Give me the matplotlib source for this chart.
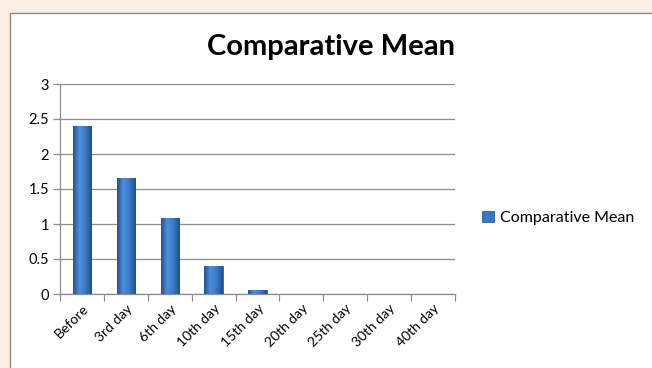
import matplotlib
matplotlib.use("Agg")
import matplotlib.pyplot as plt
import numpy as np
from matplotlib.patches import Rectangle
from matplotlib.colors import LinearSegmentedColormap

categories = ["Before", "3rd day", "6th day", "10th day", "15th day",
              "20th day", "25th day", "30th day", "40th day"]
values = [2.4, 1.66, 1.08, 0.4, 0.06, 0, 0, 0, 0]
yticks = [0, 0.5, 1, 1.5, 2, 2.5, 3]
ytick_labels = ["0", "0.5", "1", "1.5", "2", "2.5", "3"]
series_name = "Comparative Mean"
title = "Comparative Mean"

W, H = 652, 368
fig = plt.figure(figsize=(W / 100, H / 100), dpi=100)
fig.patch.set_facecolor("#fcede2")
panel = Rectangle((10 / W, -0.01), 1, 1.01 - 13 / H, transform=fig.transFigure,
                  facecolor="white", edgecolor="#8a8a8a", lw=1.0, zorder=-5)
fig.patches.append(panel)

ax = fig.add_axes([60 / W, 1 - 294 / H, (455 - 60) / W, (294 - 84) / H])
ax.set_zorder(2)
ax.set_facecolor("none")
x = np.arange(len(categories))
bars = ax.bar(x, values, width=0.42, color="#3a77c2", edgecolor="#2a5a96", lw=0.6, zorder=3)

# cylinder-like gradient
cmap = LinearSegmentedColormap.from_list("cyl", ["#24538f", "#4d8fdc", "#3a78c4", "#22508a"])
grad = np.linspace(0, 1, 64).reshape(1, -1)
for b in bars:
    h = b.get_height()
    if h <= 0:
        continue
    x0 = b.get_x()
    im = ax.imshow(grad, cmap=cmap, aspect="auto", extent=(x0, x0 + b.get_width(), 0, h),
                   zorder=4, interpolation="bicubic")
    im.set_clip_path(b)
ax.set_xlim(-0.5, len(categories) - 0.5)
ax.set_ylim(0, 3)
ax.set_yticks(yticks)
ax.set_yticklabels(ytick_labels)
ax.yaxis.grid(True, color="#8c8c8c", lw=0.9)
ax.set_axisbelow(True)
for s in ["top", "right"]:
    ax.spines[s].set_visible(False)
for s in ["left", "bottom"]:
    ax.spines[s].set_color("#8c8c8c")
    ax.spines[s].set_linewidth(0.9)

ax.set_xticks(x)
ax.set_xticklabels(categories, rotation=45, ha="right", rotation_mode="anchor",
                   fontsize=10, family="Lato")
ax.set_xticks(np.arange(len(categories) + 1) - 0.5, minor=True)
ax.tick_params(axis="x", which="major", length=0, pad=6)
ax.tick_params(axis="x", which="minor", length=5, color="#8c8c8c", width=0.9)
ax.tick_params(axis="y", length=5, color="#8c8c8c", width=0.9, labelsize=10.5, pad=3)
for t in ax.get_yticklabels():
    t.set_family("Lato")

fig.text(331 / W, 1 - 47 / H, title, ha="center", va="center", fontsize=21,
         fontweight="bold", family="Lato")

handle = Rectangle((0, 0), 1, 1, facecolor="#3a77c2", edgecolor="#2a5a96", lw=0.6)
fig.legend([handle], [series_name], loc="center left",
           bbox_to_anchor=(482 / W, 1 - 218 / H), frameon=False,
           prop={"family": "Lato", "size": 11.5}, handlelength=0.75, handleheight=0.75,
           handletextpad=0.4, borderpad=0, borderaxespad=0)

fig.savefig("out.png", dpi=100, facecolor=fig.get_facecolor())
